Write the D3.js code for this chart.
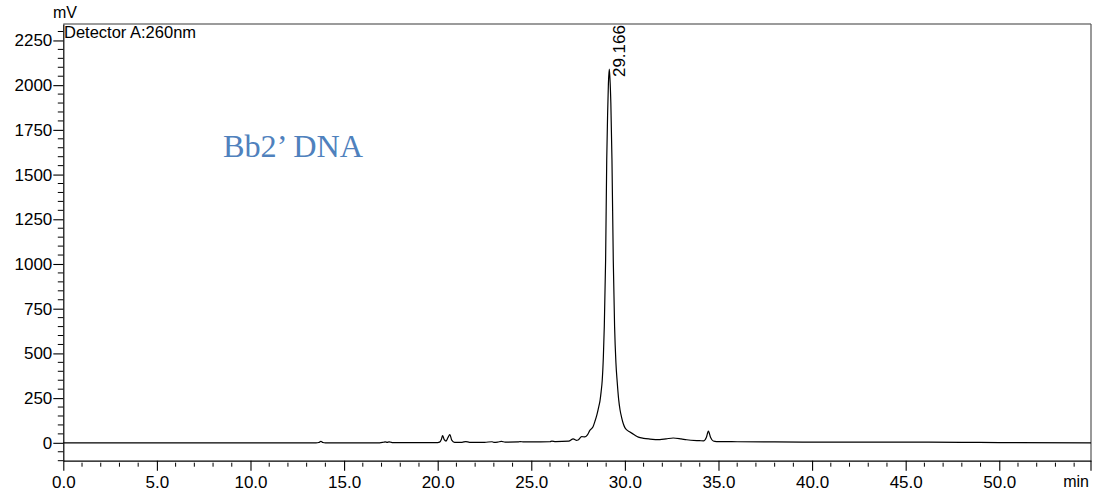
<!DOCTYPE html>
<html>
<head>
<meta charset="utf-8">
<script src="https://cdn.jsdelivr.net/npm/d3@7"></script>
<style>
  html, body { margin: 0; padding: 0; background: #fff; }
  svg { display: block; }
  text { font-family: "Liberation Sans", Arial, sans-serif; fill: #000; }
  text.sample { font-family: "Liberation Serif", "Times New Roman", serif; fill: #4f81bd; }
</style>
</head>
<body>
<svg id="chart" width="1098" height="500"></svg>
<script>
// Chromatogram trace: retention time (min) and detector response (mV)
const times = [
  0, 5, 10, 13.5, 13.65, 13.76, 13.87, 14.0, 16.9, 17.1, 17.2, 17.3, 17.4, 17.5, 17.6,
  19.9, 20.1, 20.2, 20.26, 20.35, 20.45, 20.55, 20.65, 20.75, 20.9, 21.3, 21.5, 21.7,
  22.5, 22.9, 23.0, 23.2, 23.4, 23.6, 24.3, 24.4, 24.6, 25.0, 26.0, 26.1, 26.3, 27.0,
  27.24, 27.4, 27.5, 27.69, 27.85, 28.0, 28.13, 28.3, 28.4, 28.5, 28.6, 28.67, 28.73,
  28.79, 28.85, 28.9, 28.97, 29.03, 29.08, 29.12, 29.166, 29.2, 29.25, 29.31, 29.38,
  29.45, 29.52, 29.59, 29.67, 29.74, 29.83, 29.92, 30.0, 30.1, 30.27, 30.5, 30.72,
  31.0, 31.34, 31.87, 32.2, 32.58, 33.0, 33.3, 34.0, 34.2, 34.35, 34.46, 34.58, 34.72,
  34.9, 36, 38, 40, 45, 48, 50, 54.9
];
const signal = [
  0, 0, 0, 0, 2, 8, 2, 0, 0, 3, 5, 3, 5, 3, 1,
  1, 4, 20, 40, 18, 10, 30, 46, 15, 3, 3, 7, 3,
  3, 6, 3, 4, 8, 4, 5, 7, 5, 5, 6, 10, 7, 9,
  22, 14, 16, 35, 33, 45, 70, 90, 120, 155, 200, 235, 285,
  350, 480, 650, 1020, 1580, 1850, 2010, 2090, 2040, 1900, 1580, 1020,
  650, 450, 340, 240, 185, 140, 105, 85, 72, 60, 45, 32,
  25, 21, 18, 22, 27, 22, 17, 12, 11, 30, 65, 30, 10,
  7, 6, 5, 4, 4, 3, 1, 0
];

// Axis settings
const timeDomain = [0, 54.9];
const mvDomain = [-100, 2342];
const xMajorTicks = [0, 5, 10, 15, 20, 25, 30, 35, 40, 45, 50];
const yMajorTicks = [0, 250, 500, 750, 1000, 1250, 1500, 1750, 2000, 2250];

const detectorLabel = "Detector A:260nm";
const sampleLabel = "Bb2\u2019 DNA";

const svg = d3.select("#chart");
const plotL = 63.3, plotR = 1091, plotT = 24, plotB = 460.7;

const x = d3.scaleLinear().domain(timeDomain).range([plotL, plotR]);
const y = d3.scaleLinear().domain(mvDomain).range([plotB, plotT]);

// Frame: gray top and right edges
svg.append("line").attr("x1", plotL).attr("x2", plotR).attr("y1", plotT).attr("y2", plotT)
  .attr("stroke", "#7a7a7a").attr("stroke-width", 1.6);
svg.append("line").attr("x1", plotR).attr("x2", plotR).attr("y1", plotT).attr("y2", plotB)
  .attr("stroke", "#555").attr("stroke-width", 1.2);

// Bottom axis (time)
const xAxis = d3.axisBottom(x).tickValues(xMajorTicks).tickFormat(d3.format(".1f"))
  .tickSizeInner(10).tickSizeOuter(0).tickPadding(5);
const gx = svg.append("g").attr("transform", `translate(0,${plotB})`).call(xAxis);
gx.select(".domain").attr("stroke", "#000").attr("stroke-width", 1.2);
gx.selectAll(".tick line").attr("stroke", "#000").attr("stroke-width", 1.1);
gx.selectAll(".tick text").attr("font-size", 17).attr("font-family", "Liberation Sans, Arial, sans-serif");

const xMinor = d3.range(1, 55).filter(d => d % 5 !== 0);
gx.selectAll(".minor").data(xMinor).enter().append("line")
  .attr("x1", d => x(d)).attr("x2", d => x(d)).attr("y1", 2).attr("y2", 6)
  .attr("stroke", "#000").attr("stroke-width", 1);
gx.append("line").attr("x1", plotR).attr("x2", plotR).attr("y1", 0).attr("y2", 10)
  .attr("stroke", "#000").attr("stroke-width", 1.1);

svg.append("text").attr("x", 1089).attr("y", 487).attr("text-anchor", "end")
  .attr("font-size", 16).text("min");

// Left axis (mV)
const yAxis = d3.axisLeft(y).tickValues(yMajorTicks).tickFormat(d3.format("d"))
  .tickSizeInner(10).tickSizeOuter(0).tickPadding(1);
const gy = svg.append("g").attr("transform", `translate(${plotL},0)`).call(yAxis);
gy.select(".domain").attr("stroke", "#000").attr("stroke-width", 1.2);
gy.selectAll(".tick line").attr("stroke", "#000").attr("stroke-width", 1.1);
gy.selectAll(".tick text").attr("font-size", 17).attr("font-family", "Liberation Sans, Arial, sans-serif");

const yMinor = d3.range(-100, 2343, 50).filter(d => d % 250 !== 0);
gy.selectAll(".minor").data(yMinor).enter().append("line")
  .attr("x1", -5.5).attr("x2", 0).attr("y1", d => y(d)).attr("y2", d => y(d))
  .attr("stroke", "#000").attr("stroke-width", 1);

svg.append("text").attr("x", 65).attr("y", 18).attr("text-anchor", "middle")
  .attr("font-size", 16).text("mV");

svg.append("text").attr("x", 64).attr("y", 37.5).attr("font-size", 16.5).text(detectorLabel);

// Trace
const points = times.map((t, i) => [t, signal[i]]);
const line = d3.line().x(d => x(d[0])).y(d => y(d[1])).curve(d3.curveMonotoneX);
svg.append("path").datum(points).attr("d", line)
  .attr("fill", "none").attr("stroke", "#000").attr("stroke-width", 1.2)
  .attr("stroke-linejoin", "round");

// Retention-time label of the main peak
const apexIndex = d3.maxIndex(signal);
const apexT = times[apexIndex];
svg.append("text")
  .attr("transform", `translate(${x(apexT) + 16},${y(signal[apexIndex]) + 8}) rotate(-90)`)
  .attr("font-size", 17).text(d3.format(".3f")(apexT));

// Sample name
svg.append("text").attr("class", "sample").attr("x", 223).attr("y", 157)
  .attr("font-size", 31).attr("textLength", 140).attr("lengthAdjust", "spacingAndGlyphs")
  .text(sampleLabel);
</script>
</body>
</html>
